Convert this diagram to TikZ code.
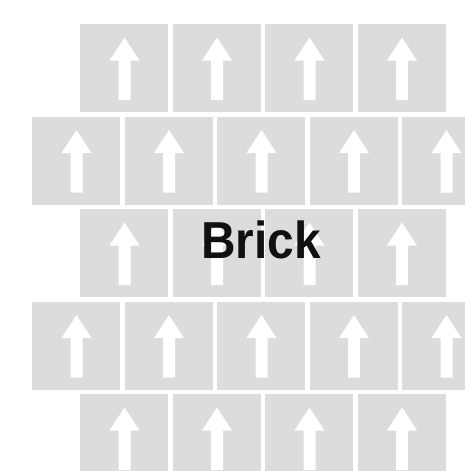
\documentclass[tikz,border=0pt]{standalone}
\usepackage{fontspec}
\setmainfont{Liberation Sans}
\definecolor{tilegray}{RGB}{220,220,220}
\definecolor{inkblack}{RGB}{17,17,17}

\begin{document}
\begin{tikzpicture}[x=1pt,y=-1pt,every node/.style={font=\bfseries}]
	\useasboundingbox (0,0) rectangle (465,471);
	\clip (0,0) rectangle (465,471);
	\foreach \row/\xo/\num in {0/80/4, 1/32/5, 2/80/4, 3/32/5, 4/80/4} {
		\pgfmathsetmacro{\ty}{24+92.5*\row}
		\foreach \k in {1,...,\num} {
			\pgfmathsetmacro{\tx}{\xo+92.5*(\k-1)}
			\fill[tilegray] (\tx,\ty) rectangle ++(88,88);
			\fill[white] (\tx+44.5,\ty+13.5) -- (\tx+59.5,\ty+36.5) -- (\tx+50.5,\ty+36.5) -- (\tx+50.5,\ty+76) -- (\tx+38.5,\ty+76) -- (\tx+38.5,\ty+36.5) -- (\tx+29.5,\ty+36.5) -- cycle;
		}
	}
	\node[inkblack, font=\fontsize{52}{52}\selectfont\bfseries, xscale=0.92] (brick) at (261,240) {Brick};
\end{tikzpicture}
\end{document}
